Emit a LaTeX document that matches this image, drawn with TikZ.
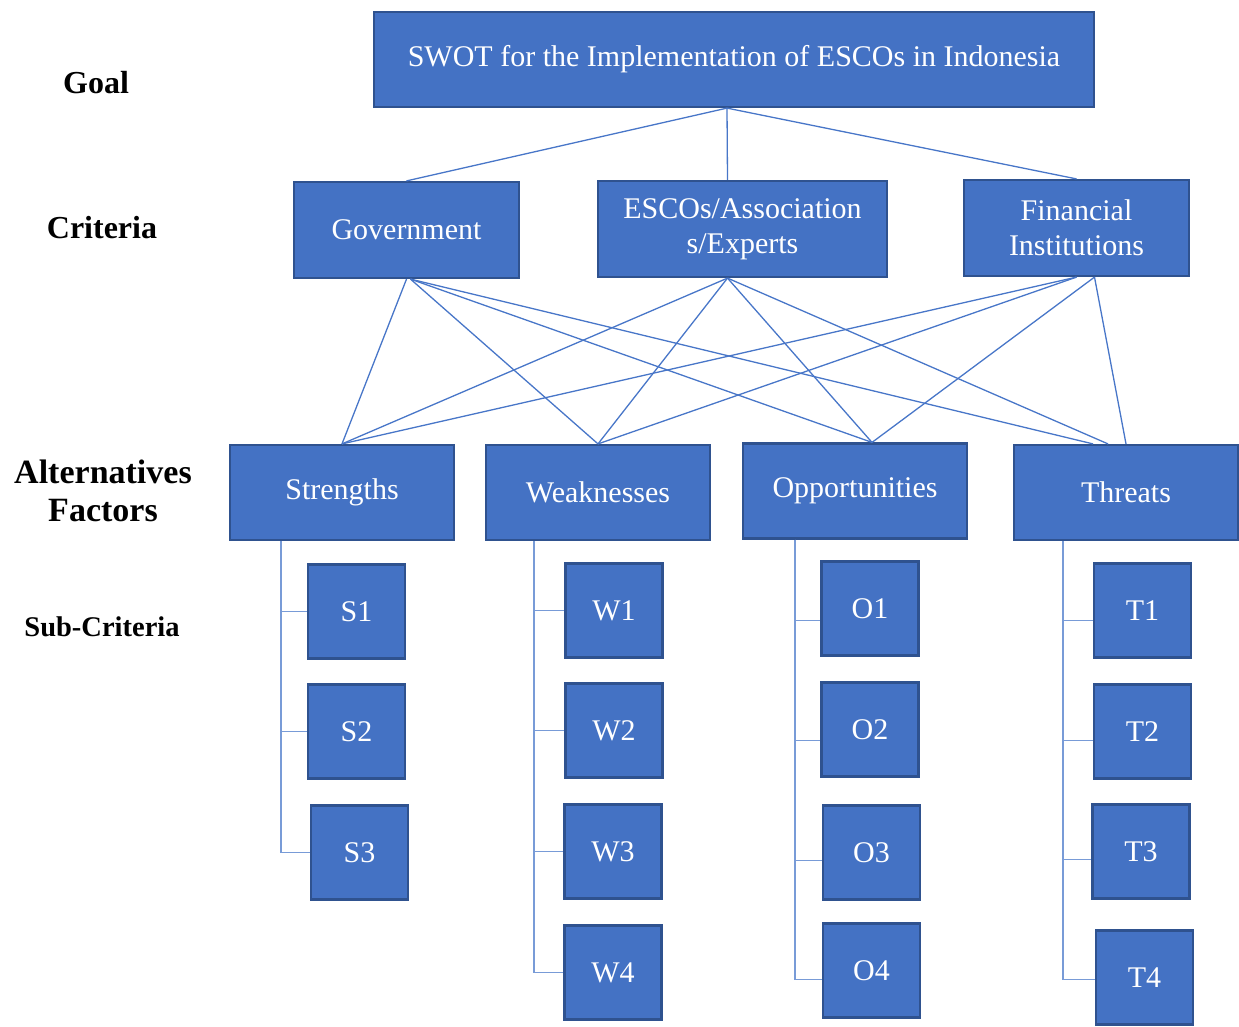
\documentclass[tikz,border=0pt]{standalone}
\usepackage{fontspec}
\setmainfont{Liberation Serif}
\usetikzlibrary{positioning,calc}

\begin{document}
\begin{tikzpicture}[x=1pt,y=-1pt,
  box/.style={draw=boxedge,fill=boxblue,line width=2.2pt,text=white,align=center,inner sep=2pt,font=\fontsize{30}{35}\selectfont},
  subbox/.style={box,minimum width=97pt,minimum height=94pt},
  link/.style={draw=linkblue,line width=1.3pt},
  level/.style={font=\fontsize{32}{38}\selectfont\bfseries,align=center}]
\definecolor{boxblue}{RGB}{68,114,196}
\definecolor{boxedge}{RGB}{47,82,143}
\definecolor{linkblue}{RGB}{72,118,200}
\definecolor{branchblue}{RGB}{120,155,215}
\useasboundingbox (0,0) rectangle (1239,1026);
% level labels
\node[level] (lgoal) at (96,83) {Goal};
\node[level] (lcrit) at (102,228) {Criteria};
\node[level,font=\fontsize{34}{38}\selectfont\bfseries] (lalt) at (103,491) {Alternatives\\Factors};
\node[level,font=\fontsize{28.5}{32}\selectfont\bfseries] (lsub) at (102,627) {Sub-Criteria};
% goal
\node[box,minimum width=720pt,minimum height=95pt] (goal) at (734,59.5) {SWOT for the Implementation of ESCOs in Indonesia};
% criteria
\node[box,minimum width=225pt,minimum height=96pt] (gov) at (406.5,230) {Government};
\node[box,minimum width=289pt,minimum height=96pt] (esco) at (742.5,229) {ESCOs/Association\\s/Experts};
\node[box,minimum width=225pt,minimum height=96pt] (fin) at (1076.5,228) {Financial\\Institutions};
% alternatives
\node[box,minimum width=224pt,minimum height=95pt] (str) at (342,492.5) {Strengths};
\node[box,minimum width=224pt,minimum height=95pt] (weak) at (598,492.5) {Weaknesses};
\node[box,minimum width=224pt,minimum height=95pt] (opp) at (855,491) {Opportunities};
\node[box,minimum width=224pt,minimum height=95pt] (thr) at (1126,492.5) {Threats};
% sub-criteria
\node[subbox] (s1) at (356.5,611.5) {S1};
\node[subbox] (s2) at (356.5,731.5) {S2};
\node[subbox] (s3) at (359.5,852.5) {S3};
\node[subbox] (w1) at (614,610.5) {W1};
\node[subbox] (w2) at (614,730.5) {W2};
\node[subbox] (w3) at (613,851.5) {W3};
\node[subbox] (w4) at (613,972.5) {W4};
\node[subbox] (o1) at (870,608.5) {O1};
\node[subbox] (o2) at (870,729.5) {O2};
\node[subbox] (o3) at (871.5,852.5) {O3};
\node[subbox] (o4) at (871.5,970.5) {O4};
\node[subbox] (t1) at (1142.5,610.5) {T1};
\node[subbox] (t2) at (1142.5,731.5) {T2};
\node[subbox] (t3) at (1141,851.5) {T3};
\node[subbox] (t4) at (1144.5,977.5) {T4};
% goal to criteria
\draw[link] ([xshift=-7pt]goal.south) -- (gov.north);
\draw[link] ([xshift=-7pt]goal.south) -- ([xshift=-15pt]esco.north);
\draw[link] ([xshift=-7pt]goal.south) -- (fin.north);
% criteria to alternatives
\draw[link] (gov.south) -- (str.north);
\draw[link] ([xshift=4pt]gov.south) -- (weak.north);
\draw[link] ([xshift=4pt]gov.south) -- ([xshift=17pt]opp.north);
\draw[link] ([xshift=4pt]gov.south) -- ([xshift=-33pt]thr.north);
\draw[link] ([xshift=-15pt]esco.south) -- (str.north);
\draw[link] ([xshift=-15pt]esco.south) -- (weak.north);
\draw[link] ([xshift=-15pt]esco.south) -- ([xshift=17pt]opp.north);
\draw[link] ([xshift=-15pt]esco.south) -- ([xshift=-18pt]thr.north);
\draw[link] (fin.south) -- (str.north);
\draw[link] (fin.south) -- (weak.north);
\draw[link] ([xshift=18pt]fin.south) -- ([xshift=17pt]opp.north);
\draw[link] ([xshift=18pt]fin.south) -- (thr.north);
% alternatives to sub-criteria
\draw[link,draw=branchblue] ([xshift=-61pt]str.south) |- (s1.west);
\draw[link,draw=branchblue] ([xshift=-61pt]str.south) |- (s2.west);
\draw[link,draw=branchblue] ([xshift=-61pt]str.south) |- (s3.west);
\draw[link,draw=branchblue] ([xshift=-64pt]weak.south) |- (w1.west);
\draw[link,draw=branchblue] ([xshift=-64pt]weak.south) |- (w2.west);
\draw[link,draw=branchblue] ([xshift=-64pt]weak.south) |- (w3.west);
\draw[link,draw=branchblue] ([xshift=-64pt]weak.south) |- (w4.west);
\draw[link,draw=branchblue] ([xshift=-60pt]opp.south) |- ([yshift=-12pt]o1.west);
\draw[link,draw=branchblue] ([xshift=-60pt]opp.south) |- ([yshift=-11pt]o2.west);
\draw[link,draw=branchblue] ([xshift=-60pt]opp.south) |- ([yshift=-8pt]o3.west);
\draw[link,draw=branchblue] ([xshift=-60pt]opp.south) |- ([yshift=-9pt]o4.west);
\draw[link,draw=branchblue] ([xshift=-63pt]thr.south) |- ([yshift=-10pt]t1.west);
\draw[link,draw=branchblue] ([xshift=-63pt]thr.south) |- ([yshift=-9pt]t2.west);
\draw[link,draw=branchblue] ([xshift=-63pt]thr.south) |- ([yshift=-8pt]t3.west);
\draw[link,draw=branchblue] ([xshift=-63pt]thr.south) |- ([yshift=-2pt]t4.west);
\end{tikzpicture}
\end{document}
